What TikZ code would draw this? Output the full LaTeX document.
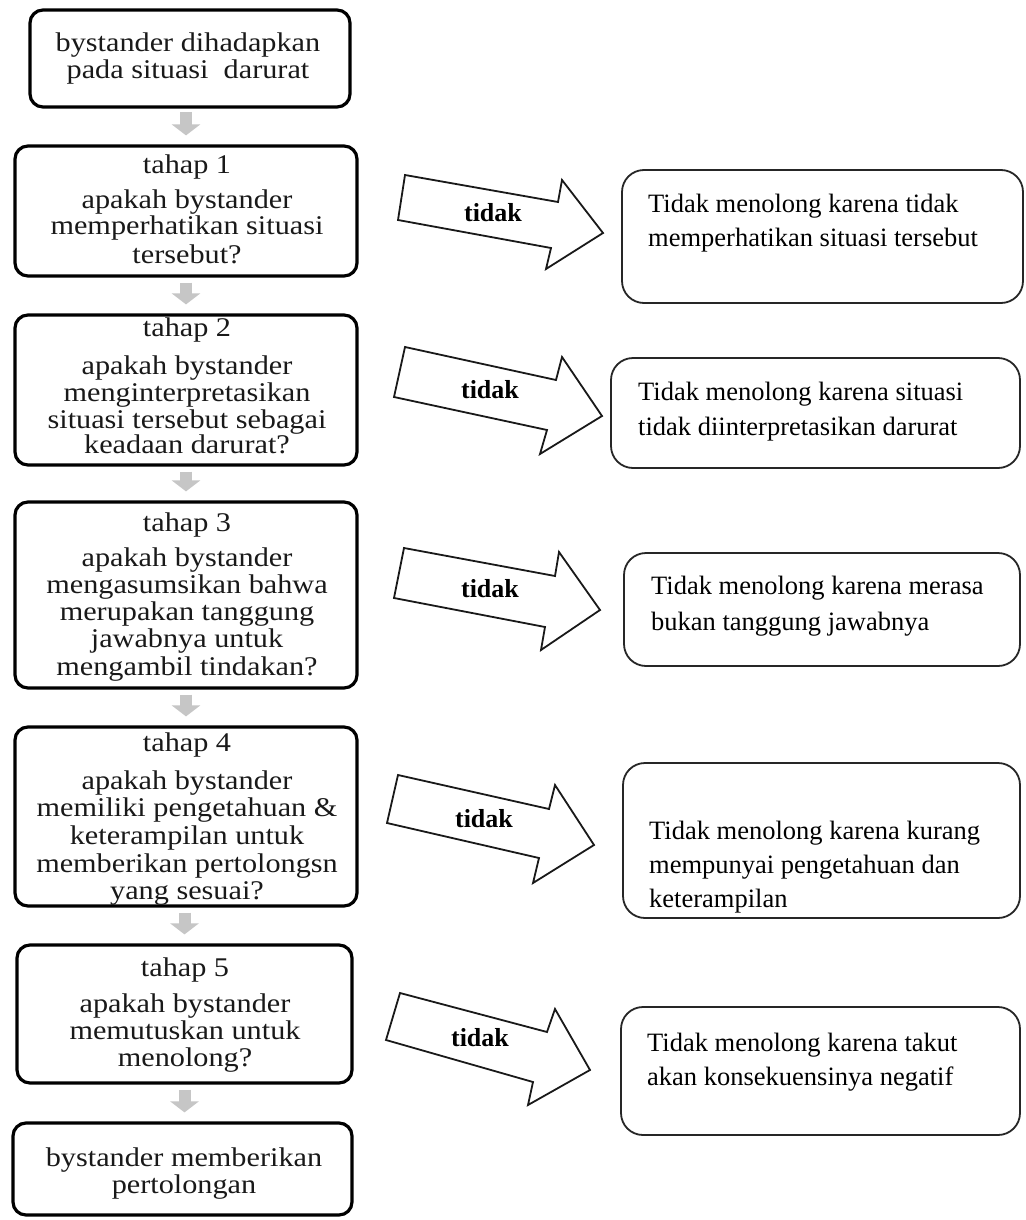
\documentclass[tikz,border=0pt]{standalone}
\usepackage{fontspec}
\setmainfont{Liberation Serif}
\newfontfamily\leftfont[FakeStretch=1.12]{Liberation Serif}
\usetikzlibrary{arrows.meta}
\begin{document}
\begin{tikzpicture}[x=1pt,y=-1pt,
  lbox/.style={draw=black, line width=3.2pt, rounded corners=13pt, inner sep=0pt},
  rbox/.style={draw=black!85, line width=1.8pt, rounded corners=22pt, inner sep=0pt},
  ltext/.style={font=\leftfont\fontsize{27}{30}\selectfont, anchor=base, yshift=-6.2pt, inner sep=0pt, text=black!90},
  rtext/.style={font=\fontsize{26.5}{30}\selectfont, anchor=base west, yshift=-6.1pt, inner sep=0pt},
  tidaklbl/.style={font=\bfseries\fontsize{26}{30}\selectfont, anchor=base, yshift=-6pt, inner sep=0pt},
  downarr/.style={draw=gray!45, line width=12pt, -{Triangle[width=28pt,length=11pt]}, shorten <=5pt, shorten >=9pt},
  blockarr/.style={draw=black!90, line width=1.8pt, fill=white, line join=miter},
]
\fill[white] (0,0) rectangle (1025,1220);
\useasboundingbox (0,0) rectangle (1025,1220);

% left boxes
\node[lbox, minimum width=320pt, minimum height=97pt] (b0) at (190,58.5) {};
\node[lbox, minimum width=342pt, minimum height=130pt] (b1) at (186,211) {};
\node[lbox, minimum width=342pt, minimum height=150pt] (b2) at (186,390) {};
\node[lbox, minimum width=342pt, minimum height=186pt] (b3) at (186,595) {};
\node[lbox, minimum width=342pt, minimum height=179pt] (b4) at (186,816.5) {};
\node[lbox, minimum width=335pt, minimum height=138pt] (b5) at (184.5,1014) {};
\node[lbox, minimum width=339pt, minimum height=92pt] (b6) at (182.5,1169) {};

% left texts
\node[ltext] (t00) at (188,45) {bystander dihadapkan};
\node[ltext] (t01) at (188,72) {pada situasi\ \ darurat};

\node[ltext] (t10) at (187,167) {tahap 1};
\node[ltext] (t11) at (187,202) {apakah bystander};
\node[ltext] (t12) at (187,228) {memperhatikan situasi};
\node[ltext] (t13) at (187,257) {tersebut?};

\node[ltext] (t20) at (187,330) {tahap 2};
\node[ltext] (t21) at (187,368) {apakah bystander};
\node[ltext] (t22) at (187,395) {menginterpretasikan};
\node[ltext] (t23) at (187,422) {situasi tersebut sebagai};
\node[ltext] (t24) at (187,447) {keadaan darurat?};

\node[ltext] (t30) at (187,525) {tahap 3};
\node[ltext] (t31) at (187,560) {apakah bystander};
\node[ltext] (t32) at (187,587) {mengasumsikan bahwa};
\node[ltext] (t33) at (187,614) {merupakan tanggung};
\node[ltext] (t34) at (187,641) {jawabnya untuk};
\node[ltext] (t35) at (187,669) {mengambil tindakan?};

\node[ltext] (t40) at (187,745) {tahap 4};
\node[ltext] (t41) at (187,783) {apakah bystander};
\node[ltext] (t42) at (187,810) {memiliki pengetahuan \&};
\node[ltext] (t43) at (187,838) {keterampilan untuk};
\node[ltext] (t44) at (187,866) {memberikan pertolongsn};
\node[ltext] (t45) at (187,893) {yang sesuai?};

\node[ltext] (t50) at (185,970) {tahap 5};
\node[ltext] (t51) at (185,1006) {apakah bystander};
\node[ltext] (t52) at (185,1033) {memutuskan untuk};
\node[ltext] (t53) at (185,1060) {menolong?};

\node[ltext] (t60) at (184,1160) {bystander memberikan};
\node[ltext] (t61) at (184,1187) {pertolongan};

% small down arrows
\coordinate (d0) at (186,107);
\draw[downarr] (d0) -- (d0 |- b1.north);
\draw[downarr] (b1.south) -- (b2.north);
\draw[downarr] (b2.south) -- (b3.north);
\draw[downarr] (b3.south) -- (b4.north);
\draw[downarr] (b4.south -| b5.north) -- (b5.north);
\draw[downarr] (b5.south) -- (b5.south |- b6.north);

% right boxes
\node[rbox, minimum width=401pt, minimum height=133pt] (r1) at (822.5,236.5) {};
\node[rbox, minimum width=409pt, minimum height=110pt] (r2) at (815.5,413) {};
\node[rbox, minimum width=396pt, minimum height=113pt] (r3) at (822,609.5) {};
\node[rbox, minimum width=397pt, minimum height=155pt] (r4) at (821.5,840.5) {};
\node[rbox, minimum width=399pt, minimum height=128pt] (r5) at (820.5,1071) {};

\node[rtext] (s10) at (648,206) {Tidak menolong karena tidak};
\node[rtext] (s11) at (648,240) {memperhatikan situasi tersebut};
\node[rtext] (s20) at (638,394) {Tidak menolong karena situasi};
\node[rtext] (s21) at (638,429) {tidak diinterpretasikan darurat};
\node[rtext] (s30) at (651,588) {Tidak menolong karena merasa};
\node[rtext] (s31) at (651,624) {bukan tanggung jawabnya};
\node[rtext] (s40) at (649,833) {Tidak menolong karena kurang};
\node[rtext] (s41) at (649,867) {mempunyai pengetahuan dan};
\node[rtext] (s42) at (649,901) {keterampilan};
\node[rtext] (s50) at (647,1045) {Tidak menolong karena takut};
\node[rtext] (s51) at (647,1079) {akan konsekuensinya negatif};

% block arrows "tidak"
\draw[blockarr] (405,175) -- (558,202) -- (562,180) -- (603,233) -- (546,269) -- (551,248) -- (398,220) -- cycle;
\node[tidaklbl] (a1) at (493,215) {tidak};
\draw[blockarr] (405,347) -- (556,380) -- (562,357) -- (602,416) -- (540,454) -- (547,430) -- (394,397) -- cycle;
\node[tidaklbl] (a2) at (490,392) {tidak};
\draw[blockarr] (404,548) -- (555,576) -- (559,552) -- (600,610) -- (541,650) -- (545,627) -- (394,598) -- cycle;
\node[tidaklbl] (a3) at (490,591) {tidak};
\draw[blockarr] (398,775) -- (549,809) -- (555,785) -- (594,845) -- (533,883) -- (539,858) -- (387,823) -- cycle;
\node[tidaklbl] (a4) at (484,821) {tidak};
\draw[blockarr] (400,993) -- (547,1032) -- (555,1009) -- (590,1070) -- (528,1105) -- (533,1082) -- (386,1040) -- cycle;
\node[tidaklbl] (a5) at (480,1040) {tidak};
\end{tikzpicture}
\end{document}
